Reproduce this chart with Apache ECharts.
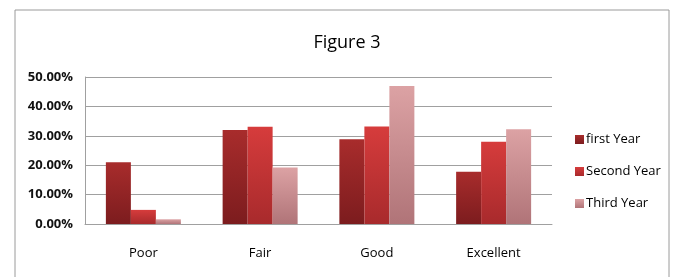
<!DOCTYPE html>
<html>
<head>
<meta charset="utf-8">
<script src="https://cdn.jsdelivr.net/npm/echarts@6/dist/echarts.min.js"></script>
<style>
  html, body { margin: 0; padding: 0; background: #fff; }
  #chart { width: 675px; height: 277px; }
</style>
</head>
<body>
<div id="chart"></div>
<script>
// data (percent)
var categories = ['Poor', 'Fair', 'Good', 'Excellent'];
var firstYear = [21.0, 32.0, 28.8, 17.8];
var secondYear = [4.8, 33.1, 33.2, 28.0];
var thirdYear = [1.6, 19.2, 46.9, 32.2];
var yTicks = [0, 10, 20, 30, 40, 50];

var font = '"Liberation Sans Narrow", "Open Sans", "Noto Sans", sans-serif';

function grad(top, bottom) {
  return new echarts.graphic.LinearGradient(0, 0, 0, 1, [
    { offset: 0, color: top },
    { offset: 1, color: bottom }
  ]);
}

var chart = echarts.init(document.getElementById('chart'));
chart.setOption({
  animation: false,
  title: {
    text: 'Figure 3',
    left: 342,
    textAlign: 'center',
    top: 29,
    textStyle: { fontFamily: font, fontSize: 18, fontWeight: 'normal', color: '#000' }
  },
  graphic: [{
    type: 'rect',
    shape: { x: 15, y: 10, width: 654, height: 280 },
    style: { fill: 'none', stroke: '#9a9a9a', lineWidth: 1 },
    silent: true
  }],
  legend: {
    orient: 'vertical',
    left: 570,
    top: 128,
    itemWidth: 9,
    itemHeight: 9,
    itemGap: 19,
    icon: 'rect',
    textStyle: { fontFamily: font, fontSize: 13, color: '#000', padding: [0, 0, 0, -3] },
    data: ['first Year', 'Second Year', 'Third Year']
  },
  grid: { left: 85, top: 77, width: 467, height: 147 },
  xAxis: {
    type: 'category',
    data: categories,
    axisTick: { show: false },
    axisLine: { lineStyle: { color: '#a0a0a0' } },
    axisLabel: { margin: 23, fontFamily: font, fontSize: 13, color: '#000' }
  },
  yAxis: {
    type: 'value',
    min: yTicks[0],
    max: yTicks[yTicks.length - 1],
    interval: 10,
    axisLine: { show: true, lineStyle: { color: '#a0a0a0' } },
    axisTick: { show: false },
    splitLine: { lineStyle: { color: '#a0a0a0' } },
    axisLabel: {
      margin: 12,
      fontFamily: font, fontSize: 13, fontWeight: 'bold', color: '#111',
      formatter: function (v) { return v.toFixed(2) + '%'; }
    }
  },
  series: [
    {
      name: 'first Year', type: 'bar', data: firstYear,
      barWidth: 25, barGap: '0%',
      itemStyle: { color: grad('#a82c2c', '#7c1c1e') }
    },
    {
      name: 'Second Year', type: 'bar', data: secondYear,
      barWidth: 25, barGap: '0%',
      itemStyle: { color: grad('#d63c3c', '#a82a2c') }
    },
    {
      name: 'Third Year', type: 'bar', data: thirdYear,
      barWidth: 25, barGap: '0%',
      itemStyle: { color: grad('#dca2a4', '#b07478') }
    }
  ]
});
</script>
</body>
</html>
